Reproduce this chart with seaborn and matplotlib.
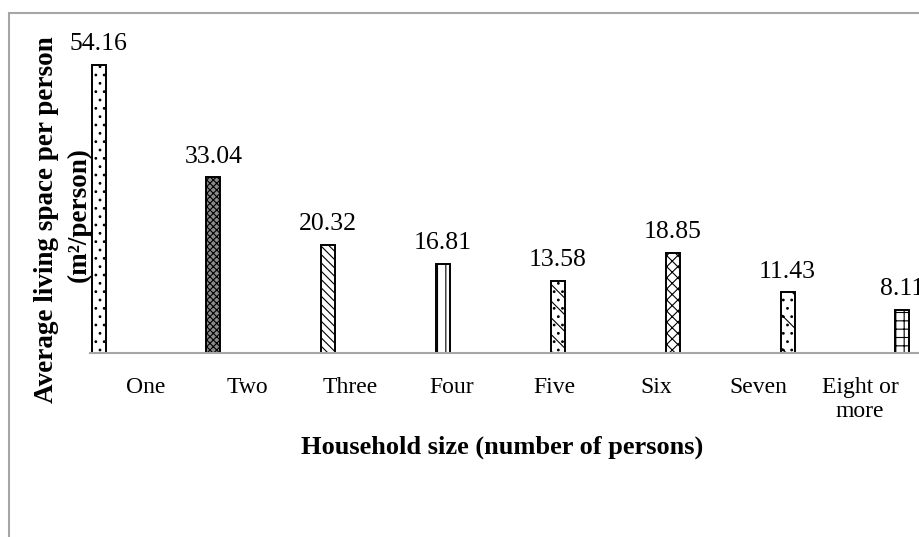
import numpy as np
import seaborn as sns
import matplotlib.pyplot as plt
from matplotlib.patches import Rectangle

# data
categories = ["One", "Two", "Three", "Four", "Five", "Six", "Seven", "Eight or\nmore"]
values = [54.16, 33.04, 20.32, 16.81, 13.58, 18.85, 11.43, 8.11]
hatches = ["..", "xxxxx", "\\\\\\\\", "||", "\\\\..", "xxx", "..\\", "++"]
faces = ["white", "#8a8a8a", "white", "white", "white", "white", "white", "white"]

sns.set_theme(style="white")
plt.rcParams["font.family"] = ["Liberation Serif", "DejaVu Serif"]
plt.rcParams["hatch.linewidth"] = 0.8
plt.rcParams["text.color"] = "black"
plt.rcParams["xtick.color"] = "black"

fig = plt.figure(figsize=(9.19, 5.37), dpi=100)
ax = fig.add_axes([90 / 919, (537 - 353) / 537, 829 / 919, (353 - 40) / 537])

sns.barplot(x=categories, y=values, width=0.122, color="white",
            edgecolor="black", linewidth=1.4, ax=ax)

for bar, h, fc in zip(ax.patches, hatches, faces):
    bar.set_hatch(h)
    bar.set_facecolor(fc)

for i, v in enumerate(values):
    ax.annotate(f"{v:.2f}", (i, v), xytext=(0, 7), textcoords="offset points",
                ha="center", va="bottom", fontsize=18.5, color="black",
                annotation_clip=False)

# category labels sit on a slightly tighter spacing than the bars
label_pos = 0.41 + 0.889 * np.arange(len(categories))
ax.set_xticks(label_pos, categories, fontsize=17)
ax.tick_params(axis="x", length=0, pad=17, labelcolor="black")
ax.set_yticks([])
ax.set_xlim(-0.075, 7.145)
ax.set_ylim(0, 58.9)
ax.set_xlabel("")
ax.set_ylabel("")

for s in ["top", "right", "left"]:
    ax.spines[s].set_visible(False)
ax.spines["bottom"].set_color("#a6a6a6")
ax.spines["bottom"].set_linewidth(1.5)

fig.text(47 / 919, 1 - 220 / 537, "Average living space per person",
         rotation=90, ha="center", va="center", fontsize=19.5, fontweight="bold")
fig.text(79 / 919, 1 - 215 / 537, "(m²/person)",
         rotation=90, ha="center", va="center", fontsize=19.5, fontweight="bold")
fig.text(502 / 919, 1 - 447 / 537, "Household size (number of persons)",
         ha="center", va="center", fontsize=19, fontweight="bold")

# outer chart border (cropped on the right and bottom)
fig.patches.append(Rectangle((9 / 919, -0.1), 1.2, 1 - 13 / 537 + 0.1,
                             transform=fig.transFigure, fill=False,
                             edgecolor="#a6a6a6", linewidth=1.5))

fig.savefig("out.png", dpi=100)
